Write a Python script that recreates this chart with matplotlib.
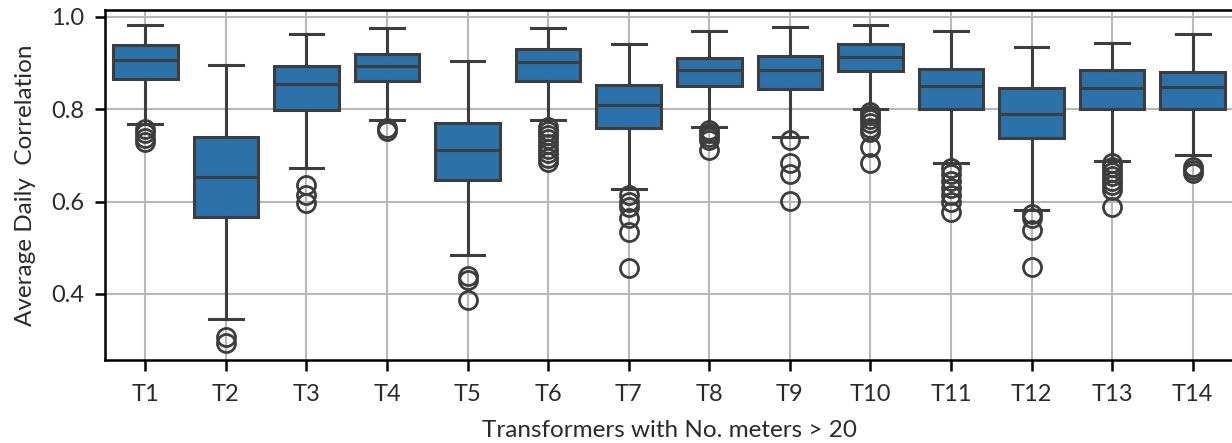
import matplotlib
matplotlib.use("Agg")
import matplotlib.pyplot as plt

plt.rcParams['font.family'] = ['Lato', 'DejaVu Sans']

labels = ["T1", "T2", "T3", "T4", "T5", "T6", "T7", "T8", "T9", "T10", "T11", "T12", "T13", "T14"]
whis_hi = [0.983, 0.896, 0.962, 0.975, 0.904, 0.975, 0.941, 0.970, 0.978, 0.983, 0.970, 0.934, 0.944, 0.962]
q3 = [0.939, 0.741, 0.894, 0.920, 0.770, 0.931, 0.852, 0.912, 0.916, 0.941, 0.887, 0.847, 0.884, 0.880]
median = [0.907, 0.654, 0.854, 0.894, 0.712, 0.903, 0.809, 0.885, 0.884, 0.914, 0.851, 0.789, 0.847, 0.849]
q1 = [0.866, 0.567, 0.798, 0.862, 0.647, 0.861, 0.759, 0.850, 0.843, 0.883, 0.801, 0.737, 0.801, 0.801]
whis_lo = [0.768, 0.345, 0.672, 0.777, 0.485, 0.777, 0.627, 0.762, 0.739, 0.800, 0.683, 0.582, 0.687, 0.702]
outliers = [
    [0.758, 0.748, 0.738, 0.730],
    [0.307, 0.293],
    [0.636, 0.614, 0.598],
    [0.759, 0.752],
    [0.439, 0.430, 0.387],
    [0.762, 0.752, 0.745, 0.735, 0.725, 0.715, 0.705, 0.695, 0.685],
    [0.614, 0.600, 0.589, 0.564, 0.535, 0.457],
    [0.755, 0.748, 0.740, 0.733, 0.712],
    [0.733, 0.683, 0.660, 0.601],
    [0.795, 0.787, 0.780, 0.770, 0.760, 0.750, 0.719, 0.684],
    [0.673, 0.660, 0.645, 0.630, 0.615, 0.600, 0.578],
    [0.574, 0.564, 0.538, 0.459],
    [0.683, 0.675, 0.665, 0.655, 0.645, 0.635, 0.625, 0.589],
    [0.676, 0.668, 0.662],
]

box_color = "#2b71aa"
line_color = "#3d3d3d"
text_color = "#2a2a2a"

fig = plt.figure(figsize=(12.32, 4.43), dpi=100)
ax = fig.add_axes([105 / 1232, 1 - 360 / 443, 1128 / 1232, 350 / 443])

stats = []
for i in range(len(labels)):
    stats.append(dict(label=labels[i], med=median[i], q1=q1[i], q3=q3[i],
                      whislo=whis_lo[i], whishi=whis_hi[i], fliers=outliers[i]))

positions = list(range(len(labels)))
ax.bxp(stats, positions=positions, widths=0.8, patch_artist=True,
       showfliers=True, manage_ticks=False,
       boxprops=dict(facecolor=box_color, edgecolor=line_color, linewidth=2.2),
       medianprops=dict(color=line_color, linewidth=2.2),
       whiskerprops=dict(color=line_color, linewidth=2.2),
       capprops=dict(color=line_color, linewidth=2.2),
       capwidths=0.42,
       flierprops=dict(marker='o', markerfacecolor='none', markeredgecolor=line_color,
                       markersize=13, markeredgewidth=2.0))

ax.set_xticks(positions)
ax.set_xticklabels(labels)
ax.set_xlim(-0.5, 13.5)
ax.set_ylim(0.257, 1.015)
ax.set_yticks([0.4, 0.6, 0.8, 1.0])
ax.set_yticklabels(["0.4", "0.6", "0.8", "1.0"])

ax.grid(True, color="#b8b8b8", linewidth=1.5)
ax.set_axisbelow(True)

for side in ["left", "bottom", "top", "right"]:
    ax.spines[side].set_color("black")
    ax.spines[side].set_linewidth(1.8)

ax.tick_params(axis='x', length=8, width=1.8, labelsize=17, pad=9, colors=text_color)
ax.tick_params(axis='y', length=7, width=1.8, labelsize=17, pad=8, colors=text_color)
ax.tick_params(axis='both', color="black")

ax.set_xlabel("Transformers with No. meters > 20", fontsize=17.5, color=text_color, labelpad=11)
ax.set_ylabel("Average Daily  Correlation", fontsize=17.5, color=text_color, labelpad=11)

fig.savefig("out.png", dpi=100)
